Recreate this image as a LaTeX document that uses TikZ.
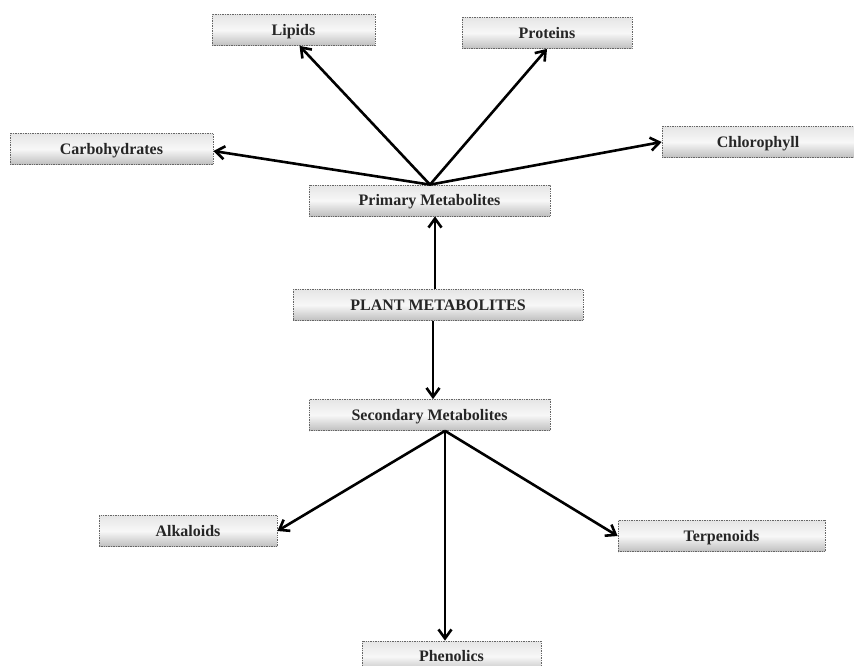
\documentclass[tikz,border=0pt]{standalone}
\usepackage{fontspec}
\setmainfont{Liberation Serif}
\usetikzlibrary{calc,arrows.meta,shadows}
\begin{document}
\begin{tikzpicture}[x=1pt,y=-1pt,
  box/.style={rectangle, draw=black!60, densely dotted, line width=0.7pt,
    top color=white!90!black, bottom color=black!25, middle color=white!97!black,
    minimum height=31pt, inner sep=0pt, text height=13pt, text depth=2.2pt,
    font=\bfseries\fontsize{16}{18}\selectfont, text=black!85},
  arr/.style={line width=2.6pt, -{Straight Barb[length=9pt,width=13pt,line width=2.6pt]}}]
\useasboundingbox (0,0) rectangle (854,666);
\fill[white] (0,0) rectangle (854,666);
\node[box, minimum width=163pt] (lip) at (293.5,30) {Lipids};
\node[box, minimum width=170pt] (pro) at (547,33) {Proteins};
\node[box, minimum width=203pt] (carb) at (111.5,149) {Carbohydrates};
\node[box, minimum width=192pt] (chl) at (758,142) {Chlorophyll};
\node[box, minimum width=241pt] (prim) at (429.5,200.5) {Primary Metabolites};
\node[box, minimum width=290pt] (plant) at (438,305) {PLANT METABOLITES};
\node[box, minimum width=241pt] (sec) at (429.5,415) {Secondary Metabolites};
\node[box, minimum width=178pt] (alk) at (188,531) {Alkaloids};
\node[box, minimum width=207pt] (ter) at (721.5,536) {Terpenoids};
\node[box, minimum width=179pt] (phe) at (451.5,656.5) {Phenolics};
\coordinate (ptop) at ($(prim.north)+(0.5,0)$);
\draw[arr] (ptop) -- ($(lip.south)+(6,0)$);
\draw[arr] (ptop) -- (pro.south);
\draw[arr] (ptop) -- ($(carb.east)+(0,2)$);
\draw[arr] (ptop) -- (chl.west);
\draw[arr] ($(plant.north)+(-3,0)$) -- ($(prim.south)+(5.5,0)$);
\draw[arr] ($(plant.south)+(-5,0)$) -- ($(sec.north)+(3.5,0)$);
\coordinate (sbot) at ($(sec.south)+(15.5,0)$);
\draw[arr] (sbot) -- (alk.east);
\draw[arr] (sbot) -- (ter.west);
\draw[arr] (sbot) -- ($(phe.north)+(-6.5,0)$);
\end{tikzpicture}
\end{document}
